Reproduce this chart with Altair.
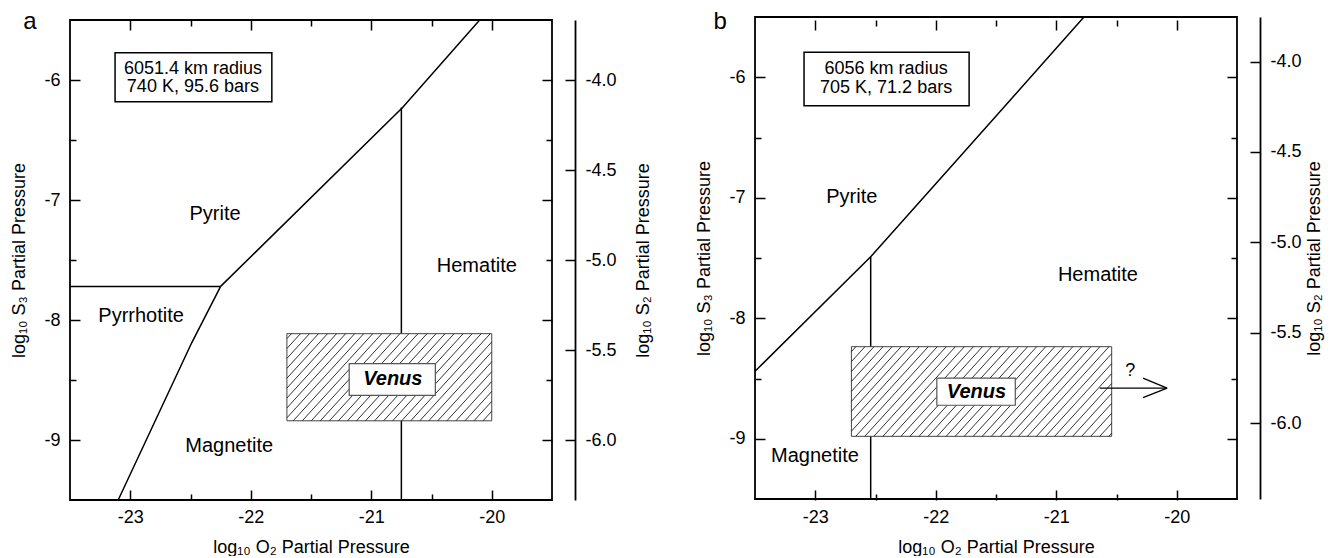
import altair as alt
import numpy as np
import pandas as pd

FONT = "Liberation Sans"

# ---------------- shared axis values ----------------
X_DOMAIN = [-23.5, -19.5]
S3_DOMAIN = [-9.5, -5.5]
X_MAJOR = [-23, -22, -21, -20]
X_MINOR = [-22.5, -21.5, -20.5]
S3_MAJOR = [-9, -8, -7, -6]
S3_MINOR = [-8.5, -7.5, -6.5]
S2_TICKS = [-6.0, -5.5, -5.0, -4.5, -4.0]
S2_PER_S3 = 2.0 / 3.0          # log S2 = (2/3) log S3 + offset
X_TITLE = "log₁₀ O₂ Partial Pressure"
S3_TITLE = "log₁₀ S₃ Partial Pressure"
S2_TITLE = "log₁₀ S₂ Partial Pressure"

# ---------------- panel a ----------------
A_S2_OFFSET = 0.0
A_LINE_ID = ["py_po", "py_po", "py_ox", "py_ox", "py_ox", "po_mt", "po_mt", "po_mt", "mt_hm", "mt_hm"]
A_LINE_O2 = [-23.5, -22.25, -22.25, -20.74, -20.10, -22.25, -22.49, -23.10, -20.75, -20.75]
A_LINE_S3 = [-7.72, -7.72, -7.72, -6.23, -5.5, -7.72, -8.19, -9.5, -6.23, -9.5]
A_VENUS_BOX = [-21.70, -20.00, -8.84, -8.114]
A_VENUS_LABEL_BOX = [-21.183, -20.468, -8.628, -8.364]
A_VENUS_LABEL_AT = [-20.821, -8.494]
A_INFO_BOX = [-23.126, -21.825, -6.182, -5.772]
A_INFO_TEXT = ["6051.4 km radius", "740 K, 95.6 bars"]
A_INFO_O2 = [-22.48, -22.48]
A_INFO_S3 = [-5.908, -6.062]
A_REGION_NAME = ["Pyrite", "Pyrrhotite", "Magnetite", "Hematite"]
A_REGION_O2 = [-22.296, -22.910, -22.179, -20.124]
A_REGION_S3 = [-7.117, -7.967, -9.05, -7.554]
A_LETTER = ("a", -23.832, -5.518)

# ---------------- panel b ----------------
B_S2_OFFSET = -0.087
B_LINE_ID = ["py", "py", "py", "py", "mt_hm", "mt_hm"]
B_LINE_O2 = [-23.5, -22.54, -21.80, -20.77, -22.54, -22.54]
B_LINE_S3 = [-8.44, -7.49, -6.66, -5.5, -7.49, -9.5]
B_VENUS_BOX = [-22.70, -20.54, -8.98, -8.236]
B_VENUS_LABEL_BOX = [-21.991, -21.34, -8.722, -8.497]
B_VENUS_LABEL_AT = [-21.662, -8.613]
B_INFO_BOX = [-23.093, -21.723, -6.236, -5.792]
B_INFO_TEXT = ["6056 km radius", "705 K, 71.2 bars"]
B_INFO_O2 = [-22.412, -22.412]
B_INFO_S3 = [-5.933, -6.088]
B_REGION_NAME = ["Pyrite", "Hematite", "Magnetite"]
B_REGION_O2 = [-22.697, -20.654, -23.002]
B_REGION_S3 = [-6.992, -7.644, -9.144]
B_ARROW_ID = ["shaft", "shaft", "head1", "head1", "head2", "head2"]
B_ARROW_O2 = [-20.64, -20.08, -20.28, -20.08, -20.28, -20.08]
B_ARROW_S3 = [-8.58, -8.58, -8.497, -8.58, -8.658, -8.58]
B_QMARK = ("?", -20.385, -8.436)
B_LETTER = ("b", -23.79, -5.545)

# ---------------- layout (pixels inside the single plot area) ----------------
W, H = 1167, 480
PANEL_W = 482
B_SHIFT = 685
RANGE_X = {"a": [0, PANEL_W], "b": [B_SHIFT, B_SHIFT + PANEL_W]}
RANGE_Y = {"a": [H, 0], "b": [H - 1, -3]}
S2_TITLE_PAD = {"a": 18, "b": 4}
MINUS_FIX = "replace(format(datum.value, '%s'), '\u2212', '-')"


def xsc(p):
    return alt.Scale(domain=X_DOMAIN, range=RANGE_X[p], nice=False, zero=False)


def ysc(p):
    return alt.Scale(domain=S3_DOMAIN, range=RANGE_Y[p], nice=False, zero=False)


def X(f, p, axis=None):
    return alt.X(f, type="quantitative", scale=xsc(p), axis=axis)


def Y(f, p, axis=None):
    return alt.Y(f, type="quantitative", scale=ysc(p), axis=axis)


def polylines(p, ids, xs, ys, width=1.5):
    df = pd.DataFrame({"id": ids, "o2": xs, "s3": ys})
    df["k"] = df.groupby("id").cumcount()
    return alt.Chart(df).mark_line(color="black", strokeWidth=width).encode(
        x=X("o2", p), y=Y("s3", p), detail="id:N", order="k:Q")


def box(p, b, stroke="#333333", width=1.0, fill=True):
    df = pd.DataFrame({"x0": [b[0]], "x1": [b[1]], "y0": [b[2]], "y1": [b[3]]})
    mk = alt.Chart(df).mark_rect(fill="white", fillOpacity=1 if fill else 0,
                                 stroke=stroke, strokeWidth=width)
    return mk.encode(x=X("x0", p), x2="x1", y=Y("y0", p), y2="y1")


def hatch(p, b, step=0.075, slope=1.1):
    x0, x1, y0, y1 = b
    h = (y1 - y0) / slope
    starts = np.arange(x0 - h + step / 2, x1, step)
    rows = []
    for xs in starts:
        ax, ay = xs, y0
        bx, by = xs + h, y1
        if ax < x0:
            ay = y0 + slope * (x0 - xs)
            ax = x0
        if bx > x1:
            by = y0 + slope * (x1 - xs)
            bx = x1
        rows.append({"xa": ax, "ya": ay, "xb": bx, "yb": by})
    df = pd.DataFrame(rows)
    return alt.Chart(df).mark_rule(color="#1a1a1a", strokeWidth=0.9).encode(
        x=X("xa", p), x2="xb", y=Y("ya", p), y2="yb")


def texts(p, labels, xs, ys, size, weight="normal", style="normal"):
    df = pd.DataFrame({"t": labels, "o2": xs, "s3": ys})
    return alt.Chart(df).mark_text(font=FONT, fontSize=size, fontWeight=weight, fontStyle=style,
                                   color="black", baseline="middle", align="center").encode(
        x=X("o2", p), y=Y("s3", p), text="t:N")


def base_axis(**kw):
    d = dict(grid=False, domain=False, tickColor="black", tickWidth=1.5,
             labelFont=FONT, labelFontSize=18, labelColor="black",
             titleFont=FONT, titleFontSize=18, titleColor="black", titleFontWeight="normal")
    d.update(kw)
    return alt.Axis(**d)


def x_axis_layer(p, values, orient, size, labels=False, title=None):
    kw = dict(values=values, orient=orient, tickSize={"expr": str(-size)}, labels=labels, title=title)
    if labels:
        kw["labelPadding"] = size + 8
        kw["titlePadding"] = 12
        kw["labelExpr"] = MINUS_FIX % "d"
    df = pd.DataFrame({"v": [values[0]], "w": [S3_DOMAIN[0]]})
    return alt.Chart(df).mark_point(opacity=0).encode(
        x=X("v", p, axis=base_axis(**kw)), y=Y("w", p))


def y_axis_layer(p, values, orient, size, labels=False, title=None, offset=0, domain=False,
                 label_expr=None, title_angle=None, title_pad=15):
    kw = dict(values=values, orient=orient, tickSize={"expr": str(-size)}, labels=labels,
              title=title, domain=domain)
    if labels:
        kw["labelPadding"] = size + 10
        kw["titlePadding"] = title_pad
        kw["labelExpr"] = label_expr or (MINUS_FIX % "d")
    if offset:
        kw["offset"] = offset
    if domain:
        kw["domainColor"] = "black"
        kw["domainWidth"] = 1.8
    if title_angle is not None:
        kw["titleAngle"] = title_angle
        kw["titleBaseline"] = "top"
    df = pd.DataFrame({"v": [values[0]], "w": [X_DOMAIN[0]]})
    return alt.Chart(df).mark_point(opacity=0).encode(
        y=Y("v", p, axis=base_axis(**kw)), x=X("w", p))


def s2_axis_layer(p, s2_offset, offset):
    # S2 tick positions expressed on the S3 scale
    pos = [(v - s2_offset) / S2_PER_S3 for v in S2_TICKS]
    expr = ("replace(format(datum.value * %r + %r, '.1f'), '\u2212', '-')"
            % (S2_PER_S3, s2_offset))
    return y_axis_layer(p, pos, "right", 10, labels=True, title=S2_TITLE, offset=offset,
                        domain=True, label_expr=expr, title_angle=270,
                        title_pad=S2_TITLE_PAD[p])


def panel_layers(p, line_id, line_o2, line_s3, venus_box, vl_box, vl_at, info_box, info_text,
                 info_o2, info_s3, reg_name, reg_o2, reg_s3, letter, s2_offset, extras=()):
    frame = [X_DOMAIN[0], X_DOMAIN[1], S3_DOMAIN[0], S3_DOMAIN[1]]
    # offsets that bring right-side axes of panel a / left-side axes of panel b to the panel frame
    right_off = -(W - RANGE_X[p][1])
    left_off = -RANGE_X[p][0]
    layers = [
        polylines(p, line_id, line_o2, line_s3),
        box(p, venus_box, stroke="#444444", width=1.0),
        hatch(p, venus_box),
        box(p, vl_box, stroke="#555555", width=1.2),
        texts(p, ["Venus"], [vl_at[0]], [vl_at[1]], 20, weight="bold", style="italic"),
        box(p, info_box, stroke="black", width=1.5),
        texts(p, info_text, info_o2, info_s3, 18),
        texts(p, reg_name, reg_o2, reg_s3, 20),
        texts(p, [letter[0]], [letter[1]], [letter[2]], 24),
    ]
    layers += list(extras)
    layers += [
        box(p, frame, stroke="black", width=1.8, fill=False),
        x_axis_layer(p, X_MAJOR, "bottom", 10, labels=True, title=X_TITLE),
        x_axis_layer(p, X_MINOR, "bottom", 6),
        x_axis_layer(p, X_MAJOR, "top", 10),
        x_axis_layer(p, X_MINOR, "top", 6),
        y_axis_layer(p, S3_MAJOR, "left", 10, labels=True, title=S3_TITLE, offset=left_off),
        y_axis_layer(p, S3_MINOR, "left", 6, offset=left_off),
        y_axis_layer(p, S3_MAJOR, "right", 10, offset=right_off),
        y_axis_layer(p, S3_MINOR, "right", 6, offset=right_off),
        s2_axis_layer(p, s2_offset, right_off + 23),
    ]
    return layers


layers_a = panel_layers("a", A_LINE_ID, A_LINE_O2, A_LINE_S3, A_VENUS_BOX, A_VENUS_LABEL_BOX,
                        A_VENUS_LABEL_AT, A_INFO_BOX, A_INFO_TEXT, A_INFO_O2, A_INFO_S3,
                        A_REGION_NAME, A_REGION_O2, A_REGION_S3, A_LETTER, A_S2_OFFSET)

arrow = polylines("b", B_ARROW_ID, B_ARROW_O2, B_ARROW_S3, width=1.3)
qmark = texts("b", [B_QMARK[0]], [B_QMARK[1]], [B_QMARK[2]], 18)

layers_b = panel_layers("b", B_LINE_ID, B_LINE_O2, B_LINE_S3, B_VENUS_BOX, B_VENUS_LABEL_BOX,
                        B_VENUS_LABEL_AT, B_INFO_BOX, B_INFO_TEXT, B_INFO_O2, B_INFO_S3,
                        B_REGION_NAME, B_REGION_O2, B_REGION_S3, B_LETTER, B_S2_OFFSET,
                        extras=(arrow, qmark))

chart = alt.layer(*(layers_a + layers_b)).resolve_scale(
    x="independent", y="independent").properties(
    width=W, height=H,
    autosize=alt.AutoSizeParams(type="none"),
    padding={"left": 62, "top": 12, "right": 88, "bottom": 56},
    background="white").configure_view(stroke=None)

chart.save("out.html", embed_options={"renderer": "svg", "actions": False})
